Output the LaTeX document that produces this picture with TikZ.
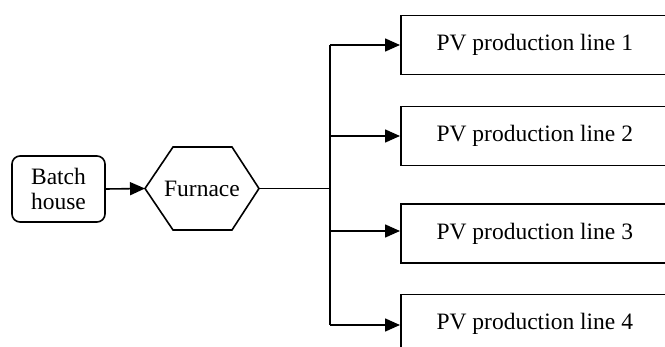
\documentclass[tikz,border=0pt]{standalone}
\usepackage{fontspec}
\setmainfont{Liberation Serif}
\usetikzlibrary{arrows.meta}
\tikzset{
  lbl/.style={font=\fontsize{23.5}{25}\selectfont, inner sep=0pt, align=center},
  linebox/.style={draw, line width=1.6pt, minimum width=268pt, minimum height=59pt, anchor=west, inner sep=0pt, font=\fontsize{23.5}{25}\selectfont},
  batchbox/.style={draw, line width=1.6pt, rounded corners=8pt, minimum width=93pt, minimum height=66pt, inner sep=0pt, align=center, font=\fontsize{23.5}{25}\selectfont},
  arr/.style={line width=1.6pt, -{Triangle[length=15pt,width=13pt]}},
  wire/.style={line width=1.6pt}
}
\begin{document}
\begin{tikzpicture}[x=1pt,y=-1pt]
\useasboundingbox (0,0) rectangle (665,347);
\clip (0,0) rectangle (665,347);
\node[batchbox] (batch) at (58.5,189) {Batch\\house};
\node[lbl] (furnace) at (202,188.5) {Furnace};
\coordinate (fl) at (145,188.5);
\coordinate (fr) at (259,188.5);
\draw[wire, line join=miter] (fl) -- (173,147) -- (232,147) -- (fr) -- (232,230) -- (173,230) -- cycle;
\node[linebox] (l1) at (400,45) {PV production line 1};
\node[linebox] (l2) at (400,136) {PV production line 2};
\node[linebox] (l3) at (400,233.5) {PV production line 3};
\node[linebox] (l4) at (400,324) {PV production line 4};
\coordinate (j) at (330,188.5);
\coordinate (b1) at (330,45);
\coordinate (b2) at (330,136);
\coordinate (b3) at (330,231);
\coordinate (b4) at (330,325);
\draw[arr] (batch.east) -- (fl);
\draw[wire] (fr) -- (j);
\draw[wire] (b1) -- (b4);
\draw[arr] (b1) -- (l1.west);
\draw[arr] (b2) -- (l2.west);
\draw[arr] (b3) -- (b3 -| l3.west);
\draw[arr] (b4) -- (b4 -| l4.west);
\end{tikzpicture}
\end{document}
